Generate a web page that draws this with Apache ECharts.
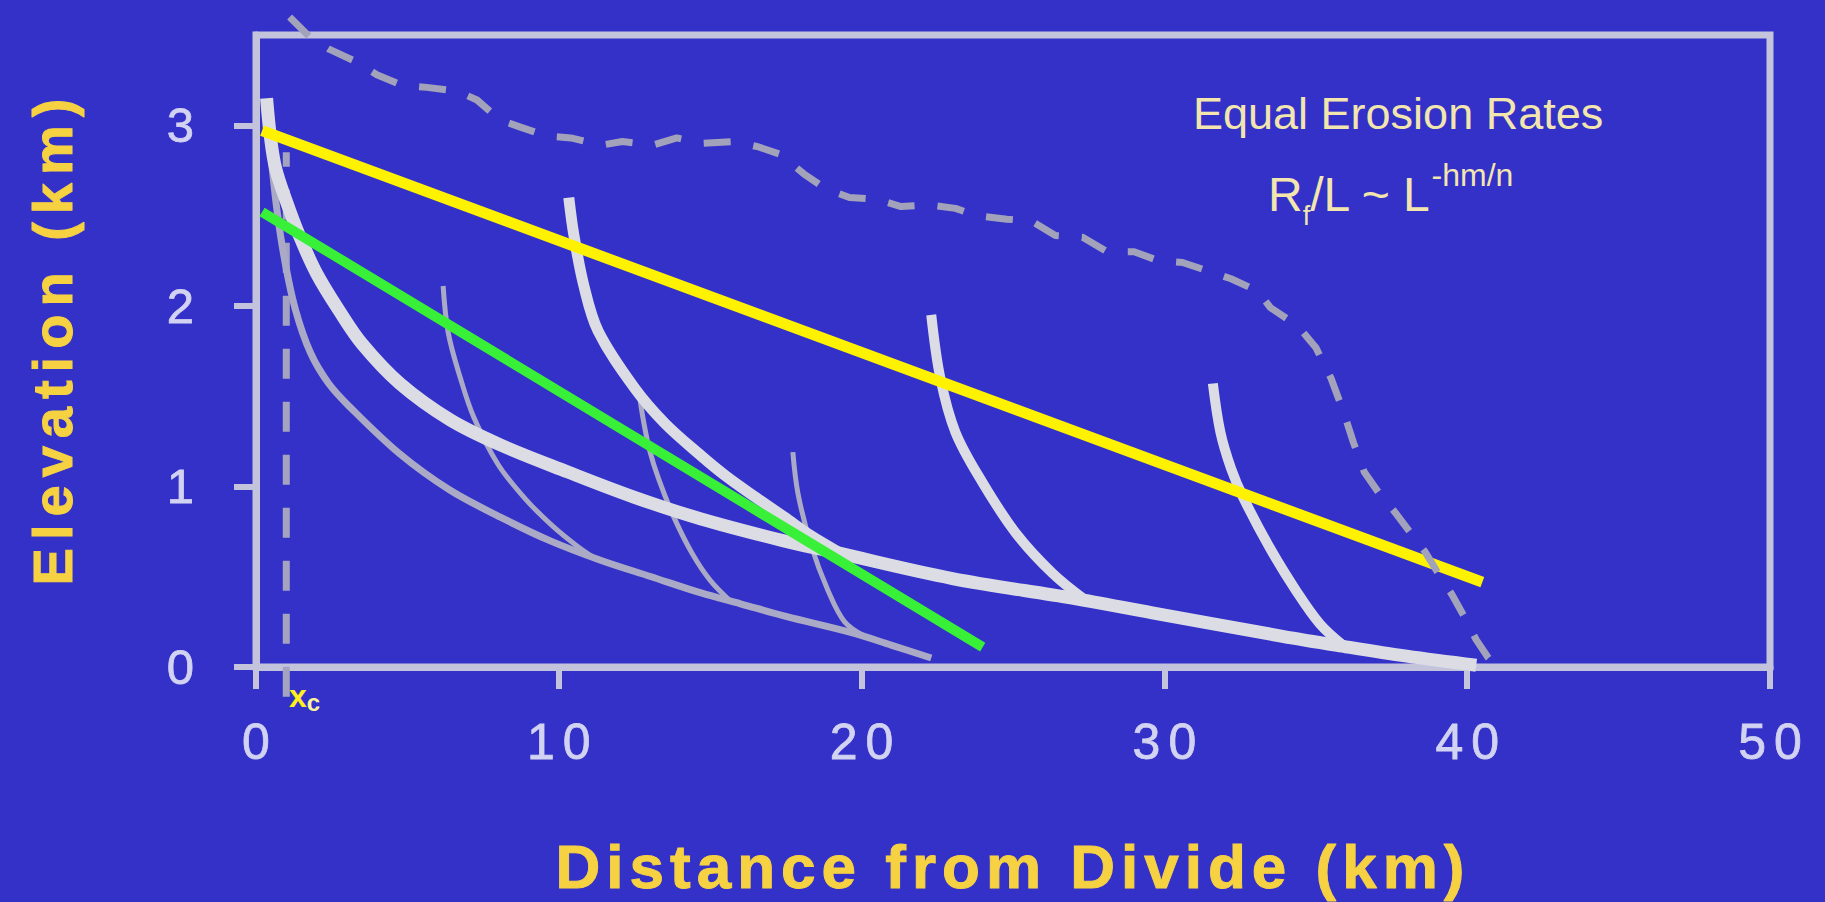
<!DOCTYPE html>
<html lang="en">
<head>
<meta charset="utf-8">
<title>Distance from Divide</title>
<script src="https://cdn.jsdelivr.net/npm/echarts@6.0.0/dist/echarts.min.js"></script>
<style>
  html, body { margin: 0; padding: 0; background: #3331c8; }
  #chart { width: 1825px; height: 902px; }
  /* tracking of the slide lettering */
  #chart text[style*="50px"] { letter-spacing: 8px; }
  #chart text[style*="62px"] { letter-spacing: 6px; }
  #chart text[style*="56px"] { letter-spacing: 8px; }
</style>
</head>
<body>
<div id="chart"></div>
<script>
// Axis ticks
const xTicks = [0, 10, 20, 30, 40, 50];
const yTicks = [0, 1, 2, 3];

// Profiles as [distance from divide (km), elevation (km)]
const mainTrunk = [[0.35, 3.15], [0.48, 2.93], [0.65, 2.76], [1.0, 2.58], [1.43, 2.39], [2.0, 2.18],
  [2.76, 1.97], [3.5, 1.79], [4.75, 1.57], [6.4, 1.37], [8.07, 1.23], [10.3, 1.08], [12.5, 0.94],
  [14.7, 0.82], [17.4, 0.7], [19.0, 0.64], [23.0, 0.49], [27.0, 0.38], [29.6, 0.3], [33.9, 0.17],
  [35.7, 0.12], [38.0, 0.06], [40.3, 0.01]];
const trib10 = [[10.33, 2.6], [10.5, 2.39], [10.83, 2.11], [11.3, 1.86], [12.48, 1.55], [13.5, 1.35],
  [14.7, 1.17], [15.5, 1.06], [16.5, 0.94], [17.45, 0.83], [18.3, 0.73], [19.2, 0.64]];
const trib22 = [[22.3, 1.95], [22.6, 1.6], [23.1, 1.3], [24.0, 1.02], [25.1, 0.74], [26.3, 0.52],
  [27.4, 0.37]];
const trib31 = [[31.6, 1.57], [31.85, 1.3], [32.2, 1.1], [32.6, 0.94], [33.48, 0.66], [34.36, 0.42],
  [35.13, 0.24], [35.9, 0.12]];

const greyTrunk = [[0.35, 3.1], [0.5, 2.82], [0.7, 2.52], [0.95, 2.25], [1.3, 1.98], [1.8, 1.74],
  [2.4, 1.57], [3.1, 1.44], [4.75, 1.18], [6.4, 0.98], [8.07, 0.83], [9.7, 0.7], [11.4, 0.59],
  [13.05, 0.5], [14.7, 0.41], [16.0, 0.35], [17.5, 0.28], [19.67, 0.19], [21.0, 0.12], [22.3, 0.05]];
const greyTrib6 = [[6.18, 2.11], [6.35, 1.85], [6.75, 1.6], [7.2, 1.38], [8.0, 1.12], [8.9, 0.93],
  [9.8, 0.78], [10.6, 0.67], [11.2, 0.6]];
const greyTrib13 = [[12.65, 1.52], [12.8, 1.36], [13.0, 1.2], [13.3, 1.04], [13.8, 0.83], [14.4, 0.63],
  [15.0, 0.48], [15.7, 0.36]];
const greyTrib18 = [[17.73, 1.19], [17.9, 0.96], [18.34, 0.67], [18.9, 0.42], [19.44, 0.25], [20.1, 0.17]];

const equalErosionLine = [[0.2, 2.97], [40.5, 0.47]];
const greenLine = [[0.2, 2.52], [24.0, 0.11]];

const upperProfile = [[1.11, 3.6], [1.77, 3.49], [2.43, 3.42], [3.33, 3.35], [3.99, 3.28], [4.85, 3.22],
  [5.64, 3.21], [6.64, 3.19], [7.3, 3.14], [8.06, 3.03], [8.73, 2.99], [9.62, 2.94], [10.4, 2.93],
  [11.4, 2.89], [12.1, 2.91], [13.1, 2.89], [13.9, 2.93], [14.7, 2.9], [15.8, 2.91], [16.6, 2.88],
  [17.3, 2.84], [18.1, 2.73], [18.8, 2.65], [19.6, 2.6], [20.5, 2.59], [21.3, 2.55], [22.2, 2.56],
  [23.1, 2.54], [23.8, 2.5], [24.8, 2.48], [25.6, 2.47], [26.4, 2.39], [27.3, 2.38], [28.1, 2.3],
  [29.0, 2.3], [29.8, 2.25], [30.6, 2.24], [31.5, 2.19], [32.2, 2.15], [33.1, 2.08], [33.5, 1.99],
  [34.4, 1.89], [35.0, 1.77], [35.5, 1.6], [35.9, 1.42], [36.25, 1.24], [36.6, 1.08], [37.1, 0.96],
  [37.6, 0.86], [38.1, 0.75], [38.6, 0.64], [39.0, 0.53], [39.5, 0.4], [39.9, 0.28], [40.3, 0.15],
  [40.7, 0.05], [41.1, -0.02]];

const xcDistance = 1.0;
const xcLine = [[xcDistance, -0.165], [xcDistance, 2.85]];

const FONT = '"Liberation Sans", Arial, Helvetica, sans-serif';
const BG = '#3331c8';
const AXIS_COLOR = '#c3c3dc';
const LABEL_COLOR = '#d2d2f2';
const TITLE_COLOR = '#f6d242';
const NOTE_COLOR = '#f2e6ae';
const WHITE = '#dcdce4';
const GREY = '#aaaac6';

function profile(name, data, color, width, extra) {
  return Object.assign({
    name: name,
    type: 'line',
    data: data,
    symbol: 'none',
    showSymbol: false,
    smooth: 0.35,
    clip: false,
    silent: true,
    lineStyle: { color: color, width: width, cap: 'butt', join: 'round' }
  }, extra || {});
}

const chart = echarts.init(document.getElementById('chart'), null, { renderer: 'svg' });

chart.setOption({
  animation: false,
  backgroundColor: BG,
  grid: {
    left: 256, right: 55, top: 35, bottom: 235,
    show: true, borderColor: AXIS_COLOR, borderWidth: 7, backgroundColor: 'transparent',
    outerBoundsMode: 'none'
  },
  xAxis: {
    type: 'value', min: 0, max: 50, interval: 10,
    axisLine: { show: true, onZero: false, lineStyle: { color: AXIS_COLOR, width: 7 } },
    axisTick: { show: true, length: 22, customValues: xTicks, lineStyle: { color: AXIS_COLOR, width: 6 } },
    axisLabel: {
      show: true, customValues: xTicks, margin: 50, color: LABEL_COLOR, fontFamily: FONT, fontSize: 50,
      textBorderColor: LABEL_COLOR, textBorderWidth: 0.8, padding: [0, 0, 0, 8]
    },
    splitLine: { show: false },
    name: 'Distance from Divide (km)', nameLocation: 'middle', nameGap: 168,
    nameTextStyle: {
      color: TITLE_COLOR, fontFamily: FONT, fontWeight: 'bold', fontSize: 62,
      textBorderColor: TITLE_COLOR, textBorderWidth: 1
    }
  },
  yAxis: {
    type: 'value', min: 0, max: 3.5, interval: 1,
    axisLine: { show: true, onZero: false, lineStyle: { color: AXIS_COLOR, width: 7 } },
    axisTick: { show: true, length: 22, customValues: yTicks, lineStyle: { color: AXIS_COLOR, width: 6 } },
    axisLabel: {
      show: true, customValues: yTicks, margin: 62, color: LABEL_COLOR, fontFamily: FONT, fontSize: 49,
      textBorderColor: LABEL_COLOR, textBorderWidth: 0.8
    },
    splitLine: { show: false },
    name: 'Elevation (km)', nameLocation: 'middle', nameGap: 176, nameRotate: 90,
    nameTextStyle: {
      color: TITLE_COLOR, fontFamily: FONT, fontWeight: 'bold', fontSize: 56,
      textBorderColor: TITLE_COLOR, textBorderWidth: 1,
      padding: [0, 0, 0, 26]
    }
  },
  series: [
    profile('xc', xcLine, '#a4a4c0', 7, { smooth: false, lineStyle: { color: '#a4a4c0', width: 7, type: [30, 23], cap: 'butt' } }),
    profile('grey trunk', greyTrunk, GREY, 7),
    profile('grey tributary 6', greyTrib6, GREY, 5),
    profile('grey tributary 13', greyTrib13, GREY, 5),
    profile('grey tributary 18', greyTrib18, GREY, 5),
    profile('main trunk', mainTrunk, WHITE, 13),
    profile('tributary 10', trib10, WHITE, 11),
    profile('tributary 22', trib22, WHITE, 10),
    profile('tributary 31', trib31, WHITE, 10),
    profile('green', greenLine, '#38f038', 10, { smooth: false }),
    profile('equal erosion', equalErosionLine, '#fff200', 11, { smooth: false }),
    profile('upper profile', upperProfile, '#a2a2ba', 7, { smooth: false, lineStyle: { color: '#a2a2ba', width: 7, type: [27, 23], cap: 'butt', join: 'round' } })
  ],
  graphic: [
    {
      type: 'text', x: 1193, y: 113, silent: true,
      style: { text: 'Equal Erosion Rates', fill: NOTE_COLOR, font: '45px ' + FONT, align: 'left', verticalAlign: 'middle' }
    },
    {
      type: 'text', x: 1268, y: 159, silent: true,
      style: {
        text: '{m|R}{s|f}{m|/L ~ L}{p|-hm/n}',
        align: 'left', verticalAlign: 'top',
        rich: {
          m: { fill: NOTE_COLOR, fontFamily: FONT, fontSize: 48, lineHeight: 70 },
          s: { fill: NOTE_COLOR, fontFamily: FONT, fontSize: 27, lineHeight: 26, verticalAlign: 'bottom' },
          p: { fill: NOTE_COLOR, fontFamily: FONT, fontSize: 32, lineHeight: 24, verticalAlign: 'top' }
        }
      }
    },
    {
      type: 'text', x: 289, y: 678, silent: true,
      style: {
        text: '{x|x}{c|c}',
        align: 'left', verticalAlign: 'top',
        rich: {
          x: { fill: '#ffef1e', fontFamily: FONT, fontWeight: 'bold', fontSize: 32, lineHeight: 36 },
          c: { fill: '#fbf59a', fontFamily: FONT, fontWeight: 'bold', fontSize: 24, lineHeight: 22, verticalAlign: 'bottom' }
        }
      }
    }
  ]
});
</script>
</body>
</html>
